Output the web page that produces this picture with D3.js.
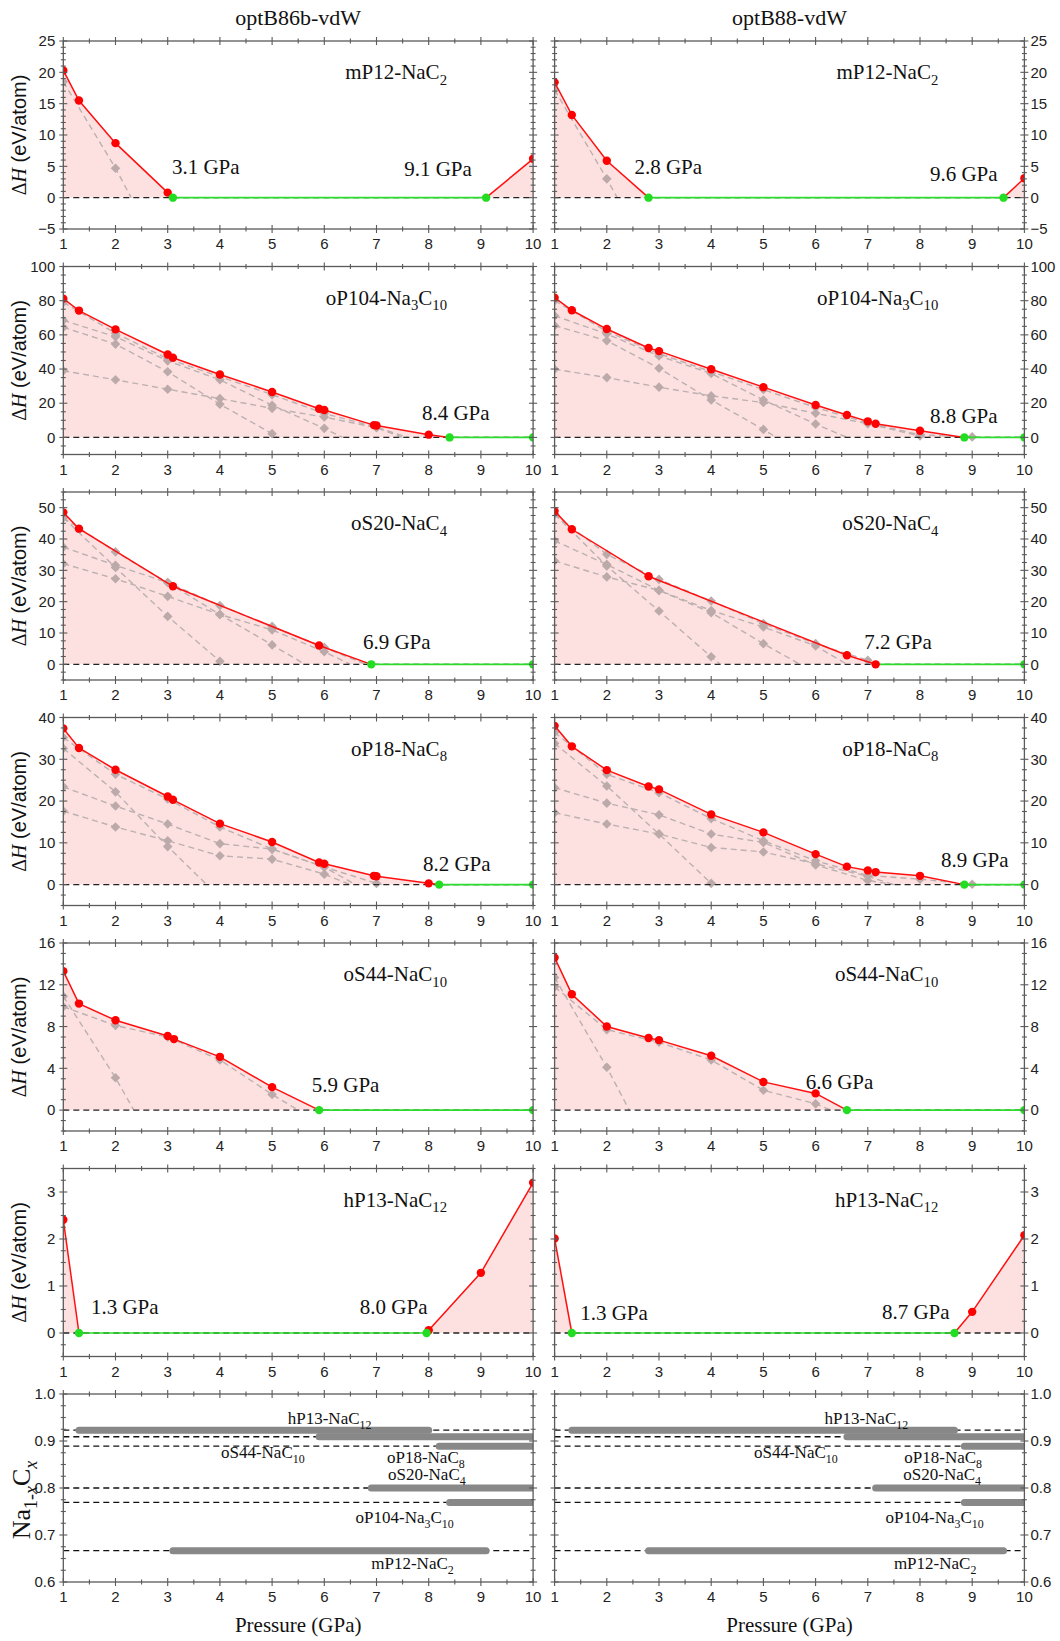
<!DOCTYPE html>
<html><head><meta charset="utf-8">
<script src="https://cdn.jsdelivr.net/npm/d3@7"></script>
<style>body{margin:0;background:#fff}svg{display:block}</style>
</head><body><div id="chart"></div>
<script>
// ---------- DATA ----------
const pressureTicks = [1,2,3,4,5,6,7,8,9,10];
const columnTitles = ["optB86b-vdW","optB88-vdW"];
const phaseNames = ["mP12-NaC_{2}","oP104-Na_{3}C_{10}","oS20-NaC_{4}","oP18-NaC_{8}","oS44-NaC_{10}","hP13-NaC_{12}"];
const yDomains = [[-5,25],[-10,100],[-5,55],[-5,40],[-2,16],[-0.5,3.5]];
const yTickValues = [[-5,0,5,10,15,20,25],[0,20,40,60,80,100],[0,10,20,30,40,50],[0,10,20,30,40],[0,4,8,12,16],[0,1,2,3]];
const yMinorSteps = [1,5,2.5,2.5,1,0.25];

// optB86b-vdW panels
const b86_mP12_red = [[[1,20.3],[1.3,15.5],[2,8.7],[3,0.8],[3.1,0]],[[9.1,0],[10,6.2]]];
const b86_mP12_gray = [[[1,18.5],[2,4.7],[2.3,0]]];
const b86_mP12_green = [3.1,9.1];
const b86_mP12_greenDots = [3.1,9.1];
const b86_mP12_gpa = [["3.1 GPa",3.08,3.7],["9.1 GPa",7.53,3.5]];

const b86_oP104_red = [[[1,81.2],[1.3,74.2],[2,63.2],[3,48.5],[3.1,46.6],[4,36.8],[5,26.6],[5.9,16.8],[6,16],[6.95,7.2],[7,7],[8,1.6],[8.4,0]]];
const b86_oP104_gray = [
  [[1,79],[2,61],[3,46],[4,35.5],[5,25],[6,14],[7,6],[7.6,0]],
  [[1,68.5],[2,58.9],[3,44.8],[4,33.7],[5,18.8],[6,5.3],[6.35,0]],
  [[1,64.4],[2,54.6],[3,38.4],[4,19.4],[5,2.2],[5.1,0]],
  [[1,39],[2,33.7],[3,28.2],[4,22.7],[5,17],[6,11.9],[7,5.7],[7.5,0]]];
const b86_oP104_green = [8.4,10];
const b86_oP104_greenDots = [8.4,10];
const b86_oP104_gpa = [["8.4 GPa",7.87,10.2]];

const b86_oS20_red = [[[1,48.5],[1.3,43.3],[3.1,24.9],[5.9,6],[6.9,0]]];
const b86_oS20_gray = [
  [[1,46.8],[2,35.9],[3,26.1],[4,18.8],[5,12.1],[6,5.4],[6.8,0]],
  [[1,37.4],[2,31.6],[3,26.1],[4,15.9],[5,6.2],[5.63,0]],
  [[1,32.1],[2,27.3],[3,21.7],[4,15.9],[5,11],[6,4],[6.5,0]],
  [[1,46.8],[2,30.9],[3,15.3],[4,1],[4.07,0]]];
const b86_oS20_green = [6.9,10];
const b86_oS20_greenDots = [6.9,10];
const b86_oS20_gpa = [["6.9 GPa",6.74,5.0]];

const b86_oP18_red = [[[1,37.4],[1.3,32.7],[2,27.5],[3,21.1],[3.1,20.3],[4,14.6],[5,10.2],[5.9,5.3],[6,5],[6.95,2.1],[7,2],[8,0.3],[8.2,0]]];
const b86_oP18_gray = [
  [[1,35.2],[2,26.4],[3,20.5],[4,13.8],[5,8.5],[6,4.2],[7,0.3],[7.1,0]],
  [[1,32.6],[2,22.2],[3,9.1],[3.75,0]],
  [[1,23.4],[2,18.8],[3,14.5],[4,9.8],[5,8.5],[6,4.2],[6.6,0]],
  [[1,17.6],[2,13.8],[3,10.5],[4,6.9],[5,6.1],[6,2.5],[6.5,0]]];
const b86_oP18_green = [8.2,10];
const b86_oP18_greenDots = [8.2,10];
const b86_oP18_gpa = [["8.2 GPa",7.89,3.3]];

const b86_oS44_red = [[[1,13.3],[1.3,10.2],[2,8.6],[3,7.1],[3.12,6.8],[4,5.1],[5,2.2],[5.9,0]]];
const b86_oS44_gray = [
  [[1,9.9],[2,8.1],[3,7],[4,4.8],[5,1.5],[5.5,0]],
  [[1,10.9],[2,3.1],[2.35,0]]];
const b86_oS44_green = [5.9,10];
const b86_oS44_greenDots = [5.9,10];
const b86_oS44_gpa = [["5.9 GPa",5.76,1.7]];

const b86_hP13_red = [[[1,2.41],[1.3,0]],[[7.96,0],[8,0.06],[9,1.28],[10,3.2]]];
const b86_hP13_gray = [];
const b86_hP13_green = [1.3,7.96];
const b86_hP13_greenDots = [1.3,7.96];
const b86_hP13_gpa = [["1.3 GPa",1.53,0.41],["8.0 GPa",6.68,0.41]];

// optB88-vdW panels
const b88_mP12_red = [[[1,18.4],[1.33,13.2],[2,5.9],[2.8,0]],[[9.6,0],[10,3.1]]];
const b88_mP12_gray = [[[1,17.2],[2,3],[2.2,0]]];
const b88_mP12_green = [2.8,9.6];
const b88_mP12_greenDots = [2.8,9.6];
const b88_mP12_gpa = [["2.8 GPa",2.53,3.7],["9.6 GPa",8.19,2.6]];

const b88_oP104_red = [[[1,81.8],[1.33,74.4],[2,63.4],[2.8,52.3],[3,50.5],[4,39.9],[5,29.4],[6,19],[6.6,13.1],[7,9.4],[7.15,8],[8,3.9],[8.85,0]]];
const b88_oP104_gray = [
  [[1,80],[2,62],[3,49],[4,38.5],[5,28],[6,17.5],[7,8.5],[8,1.5],[9,0.3]],
  [[1,71.2],[2,60.5],[3,47.7],[4,37.4],[5,21.9],[6,7.8],[6.6,0]],
  [[1,65.4],[2,56.6],[3,40.5],[4,21.9],[5,4.7],[5.25,0]],
  [[1,39.9],[2,35],[3,29.4],[4,24.3],[5,20.4],[6,14.1],[7,8],[8,0.8],[8.2,0]]];
const b88_oP104_green = [8.85,10];
const b88_oP104_greenDots = [8.85,10];
const b88_oP104_gpa = [["8.8 GPa",8.19,8.2]];

const b88_oS20_red = [[[1,48.9],[1.33,43.1],[2.8,28.1],[6.6,2.9],[7.15,0]]];
const b88_oS20_gray = [
  [[1,47.9],[2,35.1],[3,27.1],[4,20.2],[5,13],[6,6.6],[7,1.3],[7.15,0]],
  [[1,39.4],[2,31.9],[3,23.6],[4,17.2],[5,11.9],[6,5.9],[6.6,0]],
  [[1,33],[2,27.9],[3,23.6],[4,16.5],[5,6.6],[5.7,0]],
  [[1,47.9],[2,31.4],[3,17],[4,2.4],[4.17,0]]];
const b88_oS20_green = [7.15,10];
const b88_oS20_greenDots = [10];
const b88_oS20_gpa = [["7.2 GPa",6.93,4.8]];

const b88_oP18_red = [[[1,38],[1.33,33.1],[2,27.4],[2.8,23.5],[3,22.8],[4,16.8],[5,12.5],[6,7.3],[6.6,4.3],[7,3.4],[7.15,3],[8,2.1],[8.85,0]]];
const b88_oP18_gray = [
  [[1,36.4],[2,26.4],[3,22],[4,15.8],[5,10.5],[6,5.7],[7,2.2],[8,1.3],[9,0.1]],
  [[1,33.8],[2,23.6],[3,12.1],[4,0.3],[4.05,0]],
  [[1,23.2],[2,19.5],[3,16.7],[4,12.1],[5,10.1],[6,4.7],[7,1],[7.5,0]],
  [[1,17.2],[2,14.5],[3,12.1],[4,8.9],[5,7.8],[6,5],[7,2],[7.5,0]]];
const b88_oP18_green = [8.85,10];
const b88_oP18_greenDots = [8.85,10];
const b88_oP18_gpa = [["8.9 GPa",8.4,4.2]];

const b88_oS44_red = [[[1,14.6],[1.33,11.1],[2,8],[2.8,6.9],[3,6.7],[4,5.2],[5,2.7],[6,1.6],[6.6,0]]];
const b88_oS44_gray = [
  [[1,11.8],[2,7.7],[3,6.5],[4,4.8],[5,1.9],[6,0.6],[6.3,0]],
  [[1,12.7],[2,4.1],[2.43,0]]];
const b88_oS44_green = [6.6,10];
const b88_oS44_greenDots = [6.6,10];
const b88_oS44_gpa = [["6.6 GPa",5.81,2.0]];

const b88_hP13_red = [[[1,2.01],[1.33,0]],[[8.66,0],[9,0.45],[10,2.08]]];
const b88_hP13_gray = [];
const b88_hP13_green = [1.33,8.66];
const b88_hP13_greenDots = [1.33,8.66];
const b88_hP13_gpa = [["1.3 GPa",1.49,0.27],["8.7 GPa",7.27,0.3]];

// bottom panel: stability ranges
const barCompositions = [12/13, 10/11, 8/9, 4/5, 10/13, 2/3];
const barPhaseNames = ["hP13-NaC_{12}","oS44-NaC_{10}","oP18-NaC_{8}","oS20-NaC_{4}","oP104-Na_{3}C_{10}","mP12-NaC_{2}"];
const b86_ranges = [[1.3,8.0],[5.9,10],[8.2,10],[6.9,10],[8.4,10],[3.1,9.1]];
const b88_ranges = [[1.33,8.66],[6.6,10],[8.85,10],[7.15,10],[8.85,10],[2.8,9.6]];
const b86_barLabelAnchors = [[5.3,0.936],[4.02,0.863],[7.2,0.853],[7.22,0.816],[6.6,0.726],[6.9,0.627]];
const b88_barLabelAnchors = [[6.17,0.936],[4.82,0.863],[7.7,0.853],[7.68,0.816],[7.34,0.726],[7.5,0.627]];
const barYDomain = [0.6,1.0];
const barYTicks = [0.6,0.7,0.8,0.9,1.0];

// ---------- BUILD ----------
const W = 1060, H = 1641;
const colX = [63.3, 554.6], PW = 469.8, PH = 188, TOP0 = 41, STEP = 225.5;
const SERIF = "'Liberation Serif','Times New Roman',serif";
const SANS = "'Liberation Sans',Arial,sans-serif";
const svg = d3.select("#chart").append("svg").attr("width", W).attr("height", H);

const b86 = [
  [b86_mP12_red,b86_mP12_gray,b86_mP12_green,b86_mP12_greenDots,b86_mP12_gpa],
  [b86_oP104_red,b86_oP104_gray,b86_oP104_green,b86_oP104_greenDots,b86_oP104_gpa],
  [b86_oS20_red,b86_oS20_gray,b86_oS20_green,b86_oS20_greenDots,b86_oS20_gpa],
  [b86_oP18_red,b86_oP18_gray,b86_oP18_green,b86_oP18_greenDots,b86_oP18_gpa],
  [b86_oS44_red,b86_oS44_gray,b86_oS44_green,b86_oS44_greenDots,b86_oS44_gpa],
  [b86_hP13_red,b86_hP13_gray,b86_hP13_green,b86_hP13_greenDots,b86_hP13_gpa]];
const b88 = [
  [b88_mP12_red,b88_mP12_gray,b88_mP12_green,b88_mP12_greenDots,b88_mP12_gpa],
  [b88_oP104_red,b88_oP104_gray,b88_oP104_green,b88_oP104_greenDots,b88_oP104_gpa],
  [b88_oS20_red,b88_oS20_gray,b88_oS20_green,b88_oS20_greenDots,b88_oS20_gpa],
  [b88_oP18_red,b88_oP18_gray,b88_oP18_green,b88_oP18_greenDots,b88_oP18_gpa],
  [b88_oS44_red,b88_oS44_gray,b88_oS44_green,b88_oS44_greenDots,b88_oS44_gpa],
  [b88_hP13_red,b88_hP13_gray,b88_hP13_green,b88_hP13_greenDots,b88_hP13_gpa]];

function chem(textSel, str, fs) {
  const parts = str.split(/(_\{[^}]*\})/).filter(s => s.length);
  let shifted = false;
  parts.forEach(p => {
    if (p.startsWith("_{")) {
      textSel.append("tspan").attr("font-size", fs*0.7).attr("dy", shifted ? 0 : fs*0.28).text(p.slice(2,-1));
      shifted = true;
    } else {
      textSel.append("tspan").attr("font-size", fs).attr("dy", shifted ? -fs*0.28 : 0).text(p);
      shifted = false;
    }
  });
}

let clipId = 0;
function frameAndAxes(g, x, y, yTicks, minorStep, col, fmt) {
  const x0 = x.range()[0], x1 = x.range()[1], yb = y.range()[0], yt = y.range()[1];
  const axColor = "#5a5a5a";
  const minorX = d3.range(1, 10.001, 0.5).filter(v => !Number.isInteger(v));
  const ticks = g.append("g").attr("stroke", axColor).attr("stroke-width", 1.1);
  pressureTicks.forEach(v => {
    ticks.append("line").attr("x1", x(v)).attr("x2", x(v)).attr("y1", yb-4).attr("y2", yb+4);
    ticks.append("line").attr("x1", x(v)).attr("x2", x(v)).attr("y1", yt-4).attr("y2", yt+4);
  });
  minorX.forEach(v => {
    ticks.append("line").attr("x1", x(v)).attr("x2", x(v)).attr("y1", yb-2.5).attr("y2", yb+2.5);
    ticks.append("line").attr("x1", x(v)).attr("x2", x(v)).attr("y1", yt-2.5).attr("y2", yt+2.5);
  });
  const [d0, d1] = y.domain();
  const nMin = Math.round((d1 - d0) / minorStep);
  for (let i = 0; i <= nMin; i++) {
    const v = d0 + i*minorStep;
    const isMajor = yTicks.some(t => Math.abs(t - v) < 1e-6);
    const L = isMajor ? 4 : 2.5;
    ticks.append("line").attr("x1", x0-L).attr("x2", x0+L).attr("y1", y(v)).attr("y2", y(v));
    ticks.append("line").attr("x1", x1-L).attr("x2", x1+L).attr("y1", y(v)).attr("y2", y(v));
  }
  g.append("rect").attr("x", x0).attr("y", yt).attr("width", x1-x0).attr("height", yb-yt)
    .attr("fill", "none").attr("stroke", axColor).attr("stroke-width", 1.3);
  g.append("g").selectAll("text").data(pressureTicks).join("text")
    .attr("x", d => x(d)).attr("y", yb+20).attr("text-anchor", "middle")
    .attr("font-family", SANS).attr("font-size", 15).attr("fill", "#222").text(d => d);
  g.append("g").selectAll("text").data(yTicks).join("text")
    .attr("x", col === 0 ? x0-8 : x1+6).attr("y", d => y(d)).attr("dy", "0.35em")
    .attr("text-anchor", col === 0 ? "end" : "start")
    .attr("font-family", SANS).attr("font-size", 15).attr("fill", "#222").text(d => fmt(d));
}

function panel(row, col) {
  const [red, gray, green, greenDots, gpa] = (col === 0 ? b86 : b88)[row];
  const top = TOP0 + row*STEP;
  const x = d3.scaleLinear([1,10], [colX[col], colX[col]+PW]);
  const y = d3.scaleLinear(yDomains[row], [top+PH, top]);
  const g = svg.append("g");
  const cid = "clip" + (clipId++);
  g.append("clipPath").attr("id", cid).append("rect")
    .attr("x", x(1)).attr("y", top).attr("width", PW).attr("height", PH);
  const pg = g.append("g").attr("clip-path", `url(#${cid})`);
  const area = d3.area().x(d => x(d[0])).y0(y(0)).y1(d => y(d[1]));
  const line = d3.line().x(d => x(d[0])).y(d => y(d[1]));
  red.forEach(seg => pg.append("path").attr("d", area(seg)).attr("fill", "#fde1e1"));
  gray.forEach(seg => pg.append("path").attr("d", line(seg)).attr("fill", "none")
    .attr("stroke", "#bcb0b0").attr("stroke-width", 1.4).attr("stroke-dasharray", "6,4"));
  const diamonds = gray.flat().filter(d => Number.isInteger(d[0]));
  pg.selectAll("path.dm").data(diamonds).join("path").attr("class", "dm")
    .attr("d", d3.symbol(d3.symbolSquare, 46)())
    .attr("transform", d => `translate(${x(d[0])},${y(d[1])}) rotate(45)`)
    .attr("fill", "#bcaaaa");
  pg.append("line").attr("x1", x(1)).attr("x2", x(10)).attr("y1", y(0)).attr("y2", y(0))
    .attr("stroke", "#222").attr("stroke-width", 1.4).attr("stroke-dasharray", "6,4");
  red.forEach(seg => pg.append("path").attr("d", line(seg)).attr("fill", "none")
    .attr("stroke", "#ff1010").attr("stroke-width", 1.5));
  pg.append("line").attr("x1", x(green[0])).attr("x2", x(green[1])).attr("y1", y(0)).attr("y2", y(0))
    .attr("stroke", "#2ddc2d").attr("stroke-width", 1.6);
  const redDots = red.flat().filter(d => !greenDots.some(gx => Math.abs(gx - d[0]) < 1e-6 && d[1] === 0));
  pg.selectAll("circle.rd").data(redDots).join("circle").attr("class", "rd")
    .attr("cx", d => x(d[0])).attr("cy", d => y(d[1])).attr("r", 4.2).attr("fill", "#ff0000");
  pg.selectAll("circle.gd").data(greenDots).join("circle").attr("class", "gd")
    .attr("cx", d => x(d)).attr("cy", y(0)).attr("r", 4.2).attr("fill", "#22dd22");
  frameAndAxes(g, x, y, yTickValues[row], yMinorSteps[row], col, d3.format(".0f"));
  const lt = g.append("text").attr("x", x(8.35)).attr("y", top+38).attr("text-anchor", "end")
    .attr("font-family", SERIF).attr("fill", "#111");
  chem(lt, phaseNames[row], 21);
  g.selectAll("text.gpa").data(gpa).join("text").attr("class", "gpa")
    .attr("x", d => x(d[1])).attr("y", d => y(d[2]))
    .attr("font-family", SERIF).attr("font-size", 21).attr("fill", "#111").text(d => d[0]);
  if (col === 0) {
    const t = svg.append("text").attr("transform", `translate(26,${top+PH/2}) rotate(-90)`)
      .attr("text-anchor", "middle").attr("font-size", 20).attr("fill", "#111");
    t.append("tspan").attr("font-family", SERIF).text("Δ");
    t.append("tspan").attr("font-family", SERIF).attr("font-style", "italic").text("H");
    t.append("tspan").attr("font-family", SANS).text(" (eV/atom)");
  }
}

for (let r = 0; r < 6; r++) for (let c = 0; c < 2; c++) panel(r, c);

// bottom stability panel
[0,1].forEach(col => {
  const top = TOP0 + 6*STEP;
  const x = d3.scaleLinear([1,10], [colX[col], colX[col]+PW]);
  const y = d3.scaleLinear(barYDomain, [top+PH, top]);
  const g = svg.append("g");
  const cid = "clip" + (clipId++);
  g.append("clipPath").attr("id", cid).append("rect")
    .attr("x", x(1)).attr("y", top).attr("width", PW).attr("height", PH);
  const pg = g.append("g").attr("clip-path", `url(#${cid})`);
  const ranges = col === 0 ? b86_ranges : b88_ranges;
  const anchors = col === 0 ? b86_barLabelAnchors : b88_barLabelAnchors;
  pg.selectAll("line.dl").data(barCompositions).join("line").attr("class", "dl")
    .attr("x1", x(1)).attr("x2", x(10)).attr("y1", d => y(d)).attr("y2", d => y(d))
    .attr("stroke", "#111").attr("stroke-width", 1.3).attr("stroke-dasharray", "6,4");
  pg.selectAll("line.bar").data(ranges).join("line").attr("class", "bar")
    .attr("x1", d => x(d[0])).attr("x2", d => x(d[1]))
    .attr("y1", (d,i) => y(barCompositions[i])).attr("y2", (d,i) => y(barCompositions[i]))
    .attr("stroke", "#888").attr("stroke-width", 7).attr("stroke-linecap", "round");
  frameAndAxes(g, x, y, barYTicks, 0.025, col, d3.format(".1f"));
  anchors.forEach((a, i) => {
    const t = g.append("text").attr("x", x(a[0])).attr("y", y(a[1]))
      .attr("font-family", SERIF).attr("fill", "#111");
    chem(t, barPhaseNames[i], 17);
  });
  g.append("text").attr("x", (x(1)+x(10))/2).attr("y", 1632).attr("text-anchor", "middle")
    .attr("font-family", SERIF).attr("font-size", 21).attr("fill", "#111").text("Pressure (GPa)");
  if (col === 0) {
    const t = svg.append("text").attr("transform", `translate(30,${top+PH/2+12}) rotate(-90)`)
      .attr("text-anchor", "middle").attr("font-family", SERIF).attr("font-size", 26).attr("fill", "#111");
    t.append("tspan").text("Na");
    t.append("tspan").attr("font-size", 18).attr("dy", 7).text("1-");
    t.append("tspan").attr("font-size", 18).attr("font-style", "italic").text("x");
    t.append("tspan").attr("dy", -7).text("C");
    t.append("tspan").attr("font-size", 18).attr("dy", 7).attr("font-style", "italic").text("x");
  }
});

columnTitles.forEach((t, c) => {
  svg.append("text").attr("x", colX[c] + PW/2).attr("y", 25).attr("text-anchor", "middle")
    .attr("font-family", SERIF).attr("font-size", 22).attr("fill", "#111").text(t);
});
</script>
</body></html>
